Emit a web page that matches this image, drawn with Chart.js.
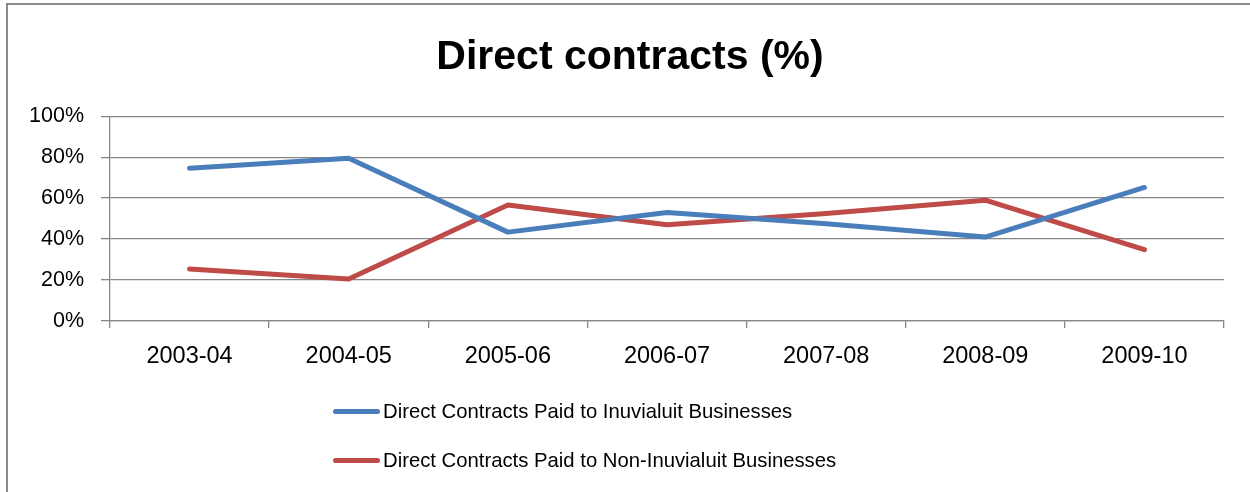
<!DOCTYPE html>
<html>
<head>
<meta charset="utf-8">
<script src="https://cdn.jsdelivr.net/npm/chart.js@4.4.1/dist/chart.umd.min.js"></script>
<style>
  html, body { margin: 0; padding: 0; background: #fff; overflow: hidden; }
  #wrap { position: relative; width: 1250px; height: 492px; }
  #frame { position: absolute; left: 6px; top: 3px; width: 1300px; height: 600px; border: 2px solid #8a8a8a; box-sizing: border-box; }
  canvas { position: absolute; left: 0; top: 0; }
  .leg { position: absolute; left: 333px; font: 20.3px "Liberation Sans", Arial, sans-serif; color: #000; white-space: nowrap; }
  .leg span { display: inline-block; width: 47px; height: 5px; border-radius: 3px; vertical-align: middle; margin-right: 3px; position: relative; top: -1px; }
</style>
</head>
<body>
<div id="wrap">
  <div id="frame"></div>
  <canvas id="contractsChart" width="1250" height="492"></canvas>
  <div id="legend"></div>
</div>
<script>
const years = ['2003-04', '2004-05', '2005-06', '2006-07', '2007-08', '2008-09', '2009-10'];
const inuvialuit = [74.6, 79.5, 43.4, 53, 47.5, 41, 65.2];
const nonInuvialuit = [25.4, 20.5, 56.6, 47, 52.5, 59, 34.8];
const yTicks = [0, 20, 40, 60, 80, 100];

const seriesNames = ['Direct Contracts Paid to Inuvialuit Businesses', 'Direct Contracts Paid to Non-Inuvialuit Businesses'];
const seriesColors = ['#4A7EBB', '#BE4B48'];
const gridColor = '#878787';

Chart.defaults.font.family = '"Liberation Sans", Arial, sans-serif';
Chart.defaults.color = '#000';

const chart = new Chart(document.getElementById('contractsChart'), {
  type: 'line',
  data: {
    labels: years,
    datasets: [
      { label: seriesNames[0], data: inuvialuit, borderColor: seriesColors[0], backgroundColor: seriesColors[0] },
      { label: seriesNames[1], data: nonInuvialuit, borderColor: seriesColors[1], backgroundColor: seriesColors[1] }
    ]
  },
  options: {
    responsive: false,
    animation: false,
    layout: { padding: { left: 36, right: 26, top: 0, bottom: 111 } },
    elements: {
      line: { borderWidth: 5, tension: 0, borderCapStyle: 'round', borderJoinStyle: 'round' },
      point: { radius: 0, hoverRadius: 0 }
    },
    plugins: {
      legend: { display: false },
      tooltip: { enabled: false },
      title: {
        display: true,
        text: 'Direct contracts (%)',
        font: { size: 41, weight: 'bold' },
        padding: { top: 33, bottom: 34 },
        lineHeight: 1.2
      }
    },
    scales: {
      x: {
        offset: true,
        grid: { offset: true, drawOnChartArea: false, drawTicks: true, tickLength: 7, color: gridColor, lineWidth: 1.3 },
        border: { display: true, color: gridColor, width: 1.3 },
        ticks: { font: { size: 23.5 }, padding: 14, maxRotation: 0 },
        afterFit: s => { s.height = 60; }
      },
      y: {
        min: 0,
        max: 100,
        afterBuildTicks: s => { s.ticks = yTicks.map(v => ({ value: v })); },
        grid: { color: gridColor, lineWidth: 1.3, tickLength: 9 },
        border: { display: true, color: gridColor, width: 1.3 },
        ticks: { font: { size: 21.5 }, padding: 17, callback: v => v + '%' },
        afterFit: s => {
          s.width = 74;
          s._computeLabelArea = () => undefined; // don't clip "100%" at the scale's left edge
        }
      }
    }
  }
});

// legend below the plot, one series per row
const legend = document.getElementById('legend');
chart.data.datasets.forEach((ds, i) => {
  const row = document.createElement('div');
  row.className = 'leg';
  row.style.top = (400 + i * 49) + 'px';
  row.innerHTML = '<span style="background:' + ds.borderColor + '"></span>' + ds.label;
  legend.appendChild(row);
});
</script>
</body>
</html>
